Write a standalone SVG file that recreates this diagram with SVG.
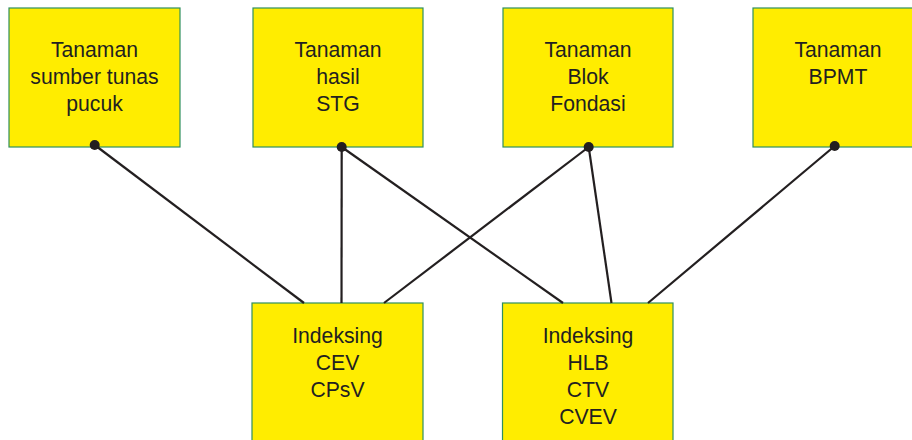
<svg xmlns="http://www.w3.org/2000/svg" width="912" height="440" viewBox="0 0 912 440">
<style>
.box{fill:#ffed00;stroke:#2f8f5f;stroke-width:1.2}
.t{font-family:"Liberation Sans",Arial,sans-serif;font-size:21.2px;fill:#231f20;text-anchor:middle}
.c{stroke:#231f20;stroke-width:2.2;fill:none;stroke-linecap:butt}
.d{fill:#231f20}
</style>
<rect width="912" height="440" fill="#ffffff"/>
<g id="n1"><rect class="box" x="9" y="8" width="171" height="139"/>
<text class="t" x="94.5" y="57">Tanaman</text><text class="t" x="94.5" y="84">sumber tunas</text><text class="t" x="94.5" y="111">pucuk</text></g>
<g id="n2"><rect class="box" x="253" y="8" width="170" height="139"/>
<text class="t" x="338" y="57">Tanaman</text><text class="t" x="338" y="84">hasil</text><text class="t" x="338" y="111">STG</text></g>
<g id="n3"><rect class="box" x="503" y="8" width="170" height="139"/>
<text class="t" x="588" y="57">Tanaman</text><text class="t" x="588" y="84">Blok</text><text class="t" x="588" y="111">Fondasi</text></g>
<g id="n4"><rect class="box" x="753" y="8" width="170" height="139"/>
<text class="t" x="838" y="57">Tanaman</text><text class="t" x="838" y="84">BPMT</text></g>
<g id="n5"><rect class="box" x="252" y="303" width="171" height="150"/>
<text class="t" x="337.5" y="343">Indeksing</text><text class="t" x="337.5" y="370">CEV</text><text class="t" x="337.5" y="397">CPsV</text></g>
<g id="n6"><rect class="box" x="502.5" y="303" width="170.5" height="150"/>
<text class="t" x="588" y="343">Indeksing</text><text class="t" x="588" y="370">HLB</text><text class="t" x="588" y="397">CTV</text><text class="t" x="588" y="424">CVEV</text></g>
<g id="connectors">
<line class="c" x1="94.7" y1="145" x2="304" y2="303"/>
<line class="c" x1="341.7" y1="147" x2="341.5" y2="303"/>
<line class="c" x1="588.7" y1="147" x2="384" y2="303"/>
<line class="c" x1="341.7" y1="147" x2="563" y2="303"/>
<line class="c" x1="588.7" y1="147" x2="611.5" y2="303"/>
<line class="c" x1="834.7" y1="146" x2="648" y2="303"/>
<circle class="d" cx="94.7" cy="145" r="5"/>
<circle class="d" cx="341.7" cy="147" r="5"/>
<circle class="d" cx="588.7" cy="147" r="5"/>
<circle class="d" cx="834.7" cy="146" r="5"/>
</g>
</svg>
